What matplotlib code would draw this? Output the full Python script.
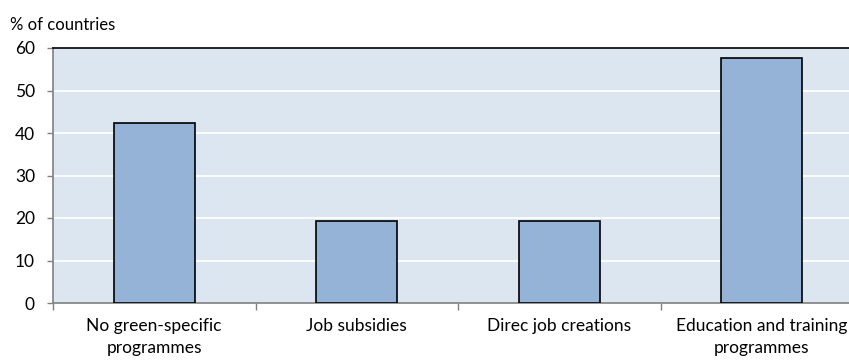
import matplotlib
matplotlib.use('Agg')
import matplotlib.pyplot as plt
import numpy as np

categories = ["No green-specific\nprogrammes", "Job subsidies",
              "Direc job creations", "Education and training\nprogrammes"]
values = [42.3, 19.2, 19.2, 57.7]
yticks = [0, 10, 20, 30, 40, 50, 60]

plt.rcParams['font.family'] = ['Lato', 'DejaVu Sans']

fig = plt.figure(figsize=(8.49, 3.62), dpi=100)
# plot area runs slightly past the right edge, like the original
ax = fig.add_axes([53 / 849, 1 - 303 / 362, 810 / 849, 255 / 362])
ax.set_facecolor('#dce6f1')

x = np.arange(len(categories))
ax.bar(x, values, width=0.4, color='#95b3d7', edgecolor='black', linewidth=1.2, zorder=3)

ax.set_xlim(-0.5, len(categories) - 0.5)
ax.set_ylim(0, 60)
ax.set_yticks(yticks)
ax.set_yticklabels([str(t) for t in yticks], fontsize=12.5)
for t in yticks[1:-1]:
    ax.axhline(t, color='white', linewidth=1.3, zorder=1)

ax.set_xticks(np.arange(len(categories) + 1) - 0.5)
ax.set_xticklabels([])
ax.set_xticks(x, minor=True)
ax.set_xticklabels(categories, minor=True, fontsize=12.5)
ax.tick_params(axis='x', which='minor', length=0, pad=11)
ax.tick_params(axis='x', which='major', length=5, color='#808080', width=1)
ax.tick_params(axis='y', length=4, color='#808080', width=1, pad=9)
for lbl in ax.get_xticklabels(minor=True):
    lbl.set_linespacing(1.45)

ax.spines['left'].set_color('#808080')
ax.spines['bottom'].set_color('#808080')
ax.spines['left'].set_linewidth(1.2)
ax.spines['bottom'].set_linewidth(1.2)
ax.spines['top'].set_color('black')
ax.spines['top'].set_linewidth(1.2)
ax.spines['right'].set_visible(False)

fig.text(10 / 849, 1 - 25 / 362, "% of countries", fontsize=12, va='center', ha='left')

plt.savefig('out.png', dpi=100)
